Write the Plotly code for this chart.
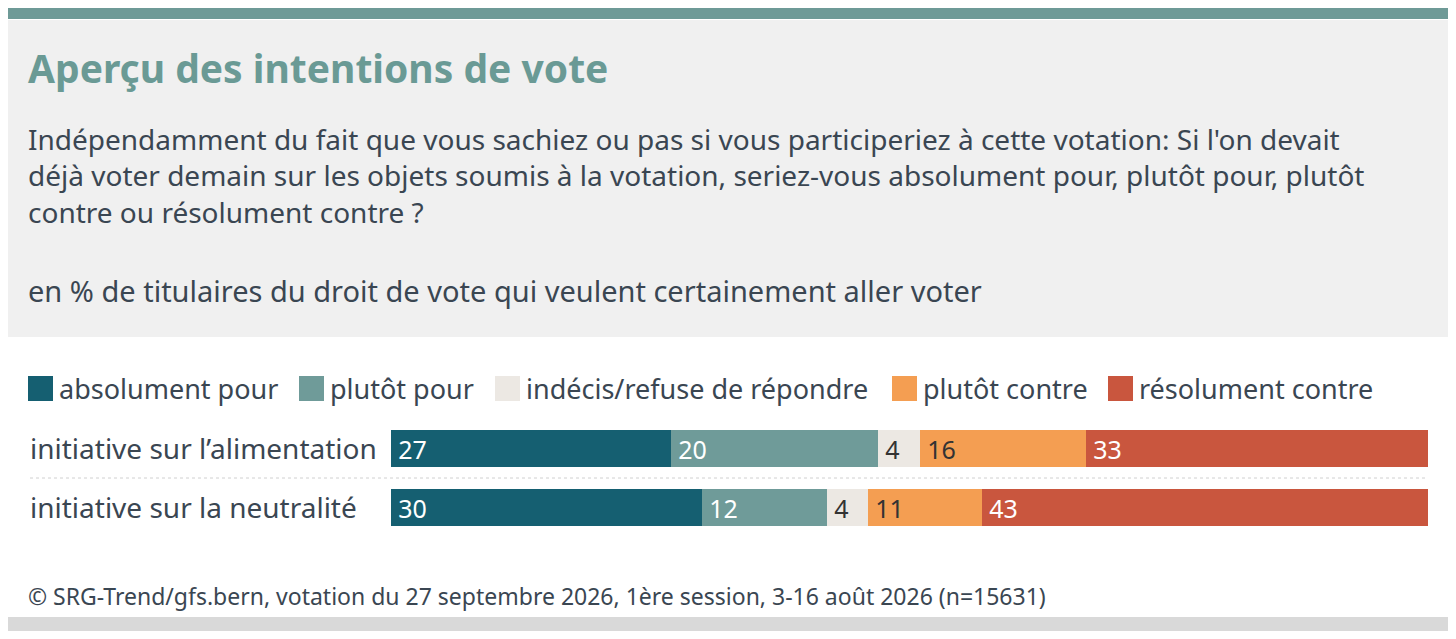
import plotly.graph_objects as go

categories = ["initiative sur l’alimentation", "initiative sur la neutralité"]
series_names = ["absolument pour", "plutôt pour", "indécis/refuse de répondre", "plutôt contre", "résolument contre"]
values = {
    "absolument pour": [27, 30],
    "plutôt pour": [20, 12],
    "indécis/refuse de répondre": [4, 4],
    "plutôt contre": [16, 11],
    "résolument contre": [33, 43],
}
colors = ["#155f71", "#6f9b99", "#ece8e3", "#f49e52", "#c9563e"]
text_colors = ["white", "white", "#333333", "#333333", "white"]

OFF = 8  # page body margin
W, H = 1440, 623
def py(p):  # reference pixel y -> paper
    return 1 - (p - OFF) / H
def px(p):
    return (p - OFF) / W

FONT = "Noto Sans"
fig = go.Figure()
ycat = [0, 1]
for name, c, tc in zip(series_names, colors, text_colors):
    fig.add_trace(go.Bar(
        x=values[name], y=ycat, orientation="h", name=name,
        marker=dict(color=c, line=dict(width=0)), width=0.63,
        text=values[name], texttemplate="\u2009%{x}", textposition="inside", insidetextanchor="start",
        constraintext="none",
        textfont=dict(color=tc, size=25, family=FONT), textangle=0,
        hoverinfo="x+name", showlegend=False))

shapes = [
    dict(type="rect", xref="paper", yref="paper", x0=px(8), x1=px(1448), y0=py(337), y1=py(20),
         fillcolor="#f0f0f0", line=dict(width=0), layer="below"),
    dict(type="rect", xref="paper", yref="paper", x0=px(8), x1=px(1448), y0=py(19), y1=py(5),
         fillcolor="#6e9a97", line=dict(width=0)),
    dict(type="rect", xref="paper", yref="paper", x0=px(8), x1=px(1448), y0=py(631), y1=py(617),
         fillcolor="#d9d9d9", line=dict(width=0)),
    dict(type="line", xref="paper", yref="paper", x0=px(30), x1=px(1428), y0=py(478), y1=py(478),
         line=dict(color="#d0d0d0", width=1, dash="dot")),
]
def ann(text, x, y, size, color="#3a4652", yanchor="middle", **kw):
    return dict(text=text, x=px(x), y=py(y), xref="paper", yref="paper", xanchor="left",
                yanchor=yanchor, showarrow=False, font=dict(size=size, color=color, family=FONT), **kw)

annotations = [
    ann("<b>Aperçu des intentions de vote</b>", 26, 68, 39, color="#6a9a95"),
    ann("Indépendamment du fait que vous sachiez ou pas si vous participeriez à cette votation: Si l'on devait<br>"
        "déjà voter demain sur les objets soumis à la votation, seriez-vous absolument pour, plutôt pour, plutôt<br>"
        "contre ou résolument contre ?", 26, 175, 28, align="left"),
    ann("en % de titulaires du droit de vote qui veulent certainement aller voter", 26, 290, 29),
    ann("© SRG-Trend/gfs.bern, votation du 27 septembre 2026, 1ère session, 3-16 août 2026 (n=15631)", 26, 596, 23),
]
for cat, yy in zip(categories, [448, 507]):
    annotations.append(ann(cat, 28, yy, 28))
leg_x = [28, 299, 495, 892, 1108]
for name, c, lx in zip(series_names, colors, leg_x):
    shapes.append(dict(type="rect", xref="paper", yref="paper", x0=px(lx), x1=px(lx + 25),
                       y0=py(401), y1=py(376), fillcolor=c, line=dict(width=0)))
    annotations.append(ann(name, lx + 29, 388, 27))

fig.update_layout(
    width=W, height=H, barmode="stack", paper_bgcolor="white", plot_bgcolor="white",
    margin=dict(l=0, r=0, t=0, b=0), bargap=0,
    xaxis=dict(domain=[px(391), px(1428)], range=[0, 100], visible=False, fixedrange=True),
    yaxis=dict(domain=[py(537), py(419)], range=[1.5, -0.5], visible=False, fixedrange=True),
    shapes=shapes, annotations=annotations,
)
fig.write_html("out.html")
